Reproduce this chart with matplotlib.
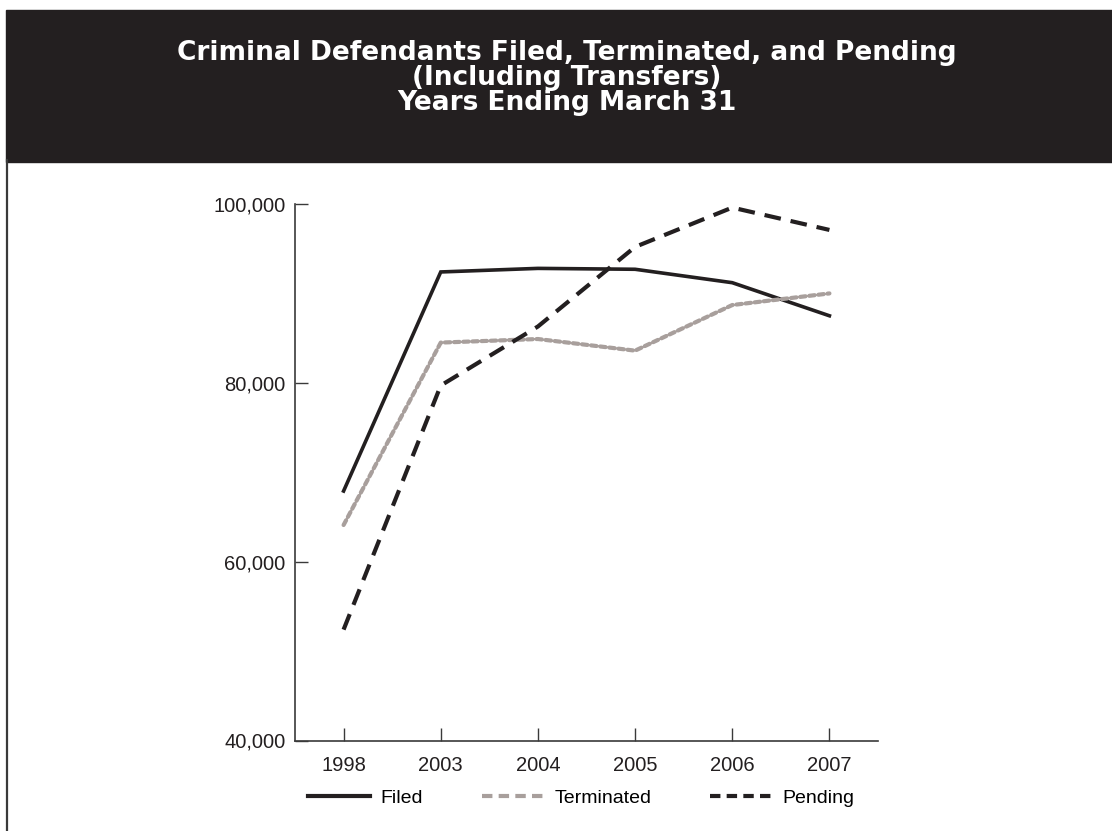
import matplotlib.pyplot as plt
from matplotlib.patches import Rectangle
from matplotlib.lines import Line2D

# Data
years = ['1998', '2003', '2004', '2005', '2006', '2007']
filed = [67900, 92400, 92800, 92700, 91200, 87500]
terminated = [64100, 84500, 84900, 83600, 88700, 90000]
pending = [52400, 79700, 86300, 95200, 99600, 97100]
y_ticks = [40000, 60000, 80000, 100000]

W, H = 1112, 831
fig = plt.figure(figsize=(W / 100, H / 100), dpi=100)
plt.rcParams['font.family'] = ['Liberation Sans', 'DejaVu Sans']

# header band and left frame line
fig.patches.append(Rectangle((6 / W, 1 - 162 / H), 1 - 6 / W, 152 / H,
                             transform=fig.transFigure, color='#231f20', zorder=0))
fig.add_artist(Line2D([7 / W, 7 / W], [0, 1 - 160 / H], transform=fig.transFigure,
                      color='#3a3a3a', lw=1.6))

title = ('Criminal Defendants Filed, Terminated, and Pending\n'
         '(Including Transfers)\n'
         'Years Ending March 31')
fig.text(567 / W, 1 - 78 / H, title, color='white', ha='center', va='center',
         fontsize=19, fontweight='bold', family='DejaVu Sans', linespacing=0.97)

ax = fig.add_axes([295 / W, 90.5 / H, 583 / W, 536.5 / H])
x = list(range(len(years)))

ax.plot(x, filed, color='#231f20', lw=2.6, solid_joinstyle='miter', label='Filed')
ax.plot(x, terminated, color='#a89f9c', lw=1.0)
ax.plot(x, terminated, color='#a89f9c', lw=3.0, dashes=(1.3, 0.9),
        dash_capstyle='round', label='Terminated')
ax.plot(x, pending, color='#231f20', lw=3.0, dashes=(4.0, 2.4), label='Pending')

ax.set_xlim(-0.5, 5.5)
ax.set_ylim(40000, 100000)
ax.set_xticks(x)
ax.set_xticklabels(years)
ax.set_yticks(y_ticks)
ax.set_yticklabels([f'{v:,}' for v in y_ticks])
for s in ['top', 'right']:
    ax.spines[s].set_visible(False)
for s in ['left', 'bottom']:
    ax.spines[s].set_color('#3a3a3a')
    ax.spines[s].set_linewidth(1.2)
ax.tick_params(direction='in', length=9.5, width=1.0, color='#3a3a3a',
               labelsize=14.5, labelcolor='#231f20')
ax.tick_params(axis='y', pad=7)
ax.tick_params(axis='x', pad=11)

handles = [Line2D([], [], color='#231f20', lw=3),
           Line2D([], [], color='#a89f9c', lw=3, dashes=(2.5, 1.5)),
           Line2D([], [], color='#231f20', lw=3, dashes=(2.5, 1.5))]
ax.legend(handles, ['Filed', 'Terminated', 'Pending'], loc='upper center',
          bbox_to_anchor=(0.491, -0.058), ncol=3, frameon=False, fontsize=14,
          handlelength=3.2, columnspacing=3.0, handletextpad=0.55)

plt.savefig('out.png', dpi=100)
